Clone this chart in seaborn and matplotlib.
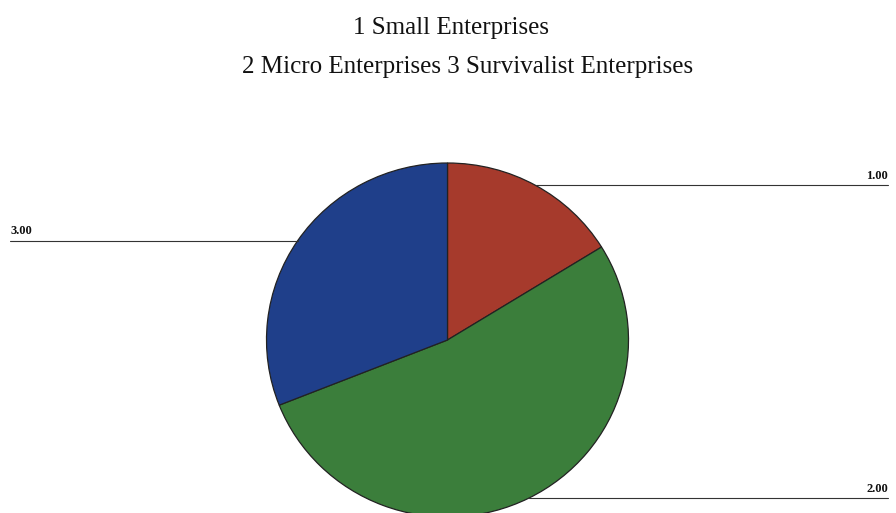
import numpy as np
import matplotlib
matplotlib.use("Agg")
import matplotlib.pyplot as plt
from matplotlib.transforms import blended_transform_factory
import seaborn as sns

# Enterprise categories and their shares
categories = ["1.00", "2.00", "3.00"]
shares = [16.2, 52.8, 31.0]
colors = ["#a63a2c", "#3b7e3b", "#1f3f8a"]
title_lines = ["1 Small Enterprises", "2 Micro Enterprises 3 Survivalist Enterprises"]

sns.set_theme(style="white")
plt.rcParams["font.family"] = ["Liberation Serif", "DejaVu Serif"]

W, H = 896, 513
fig = plt.figure(figsize=(W / 100, H / 100), dpi=100)
fig.patch.set_facecolor("white")

# pie axes: centre at (447.5, 340) px, radii 181 x 177 px
cx, cy, rx, ry = 447.5, 340.0, 181.0, 177.0
ax = fig.add_axes([(cx - rx) / W, (H - cy - ry) / H, 2 * rx / W, 2 * ry / H])
ax.axis("off")

wedges, _ = ax.pie(shares, colors=colors, startangle=90, counterclock=False,
                   radius=1, center=(0, 0), frame=False,
                   wedgeprops=dict(edgecolor="#222222", linewidth=0.9))
ax.set_xlim(-1, 1)
ax.set_ylim(-1, 1)
ax.set_aspect("auto")
for w in wedges:
    w.set_clip_on(False)

# leader lines from each wedge midpoint to the figure edge
blend = blended_transform_factory(fig.transFigure, ax.transData)
for w, lab in zip(wedges, categories):
    mid = np.deg2rad((w.theta1 + w.theta2) / 2)
    px, py = np.cos(mid), np.sin(mid)
    # wedge edge point in figure fraction
    fx = fig.transFigure.inverted().transform(ax.transData.transform((px, py)))[0]
    if px > 0:
        x_end = 888 / W
        ax.plot([fx, x_end], [py, py], color="#333333", lw=0.8,
                transform=blend, clip_on=False)
        ax.text(x_end, py + 0.02, lab, transform=blend, ha="right", va="bottom",
                fontsize=9, fontweight="bold", color="#111111")
    else:
        x_end = 10 / W
        ax.plot([x_end, fx], [py, py], color="#333333", lw=0.8,
                transform=blend, clip_on=False)
        ax.text(x_end, py + 0.02, lab, transform=blend, ha="left", va="bottom",
                fontsize=9, fontweight="bold", color="#111111")

fig.text(451 / W, 1 - 28 / H, title_lines[0], ha="center", va="center",
         fontsize=18, color="#111111")
fig.text(467.5 / W, 1 - 67 / H, title_lines[1], ha="center", va="center",
         fontsize=18, color="#111111")

fig.savefig("out.png", dpi=100, facecolor="white")
